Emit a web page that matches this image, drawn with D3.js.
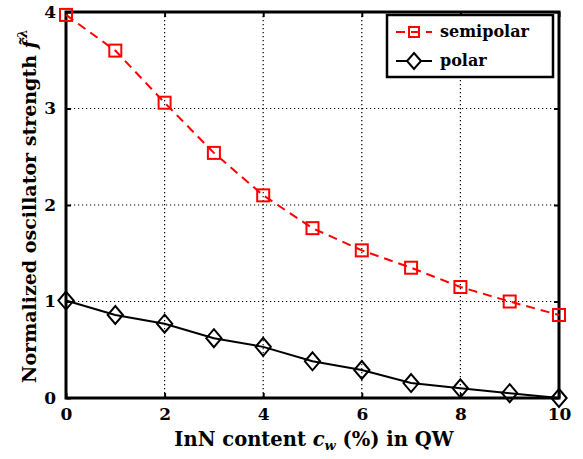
<!DOCTYPE html>
<html><head><meta charset="utf-8">
<script src="https://cdn.jsdelivr.net/npm/d3@7/dist/d3.min.js"></script>
<style>body{margin:0;background:#fff}svg{display:block}text{font-family:"DejaVu Serif",serif;font-weight:bold}</style>
</head><body><svg id="c" width="583" height="459"></svg>
<script>
const xValues = [0,1,2,3,4,5,6,7,8,9,10];
const semipolar = [3.97,3.60,3.06,2.54,2.10,1.76,1.53,1.35,1.15,1.00,0.86];
const polar = [1.01,0.86,0.77,0.62,0.53,0.38,0.29,0.155,0.10,0.05,0.0];
const xTicks = [0,2,4,6,8,10];
const yTicks = [0,1,2,3,4];

const svg = d3.select("#c");
const L=66,R=559,T=12,B=398;
const x = d3.scaleLinear().domain([0,10]).range([L,R]);
const y = d3.scaleLinear().domain([0,4]).range([B,T]);
const FONT = "DejaVu Serif";

// grid
const g = svg.append("g");
xTicks.slice(1,-1).forEach(t=>g.append("line").attr("x1",x(t)).attr("x2",x(t)).attr("y1",T).attr("y2",B)
  .attr("stroke","#000").attr("stroke-width",1.2).attr("stroke-dasharray","1.2,2.8"));
yTicks.slice(1,-1).forEach(t=>g.append("line").attr("y1",y(t)).attr("y2",y(t)).attr("x1",L).attr("x2",R)
  .attr("stroke","#000").attr("stroke-width",1.2).attr("stroke-dasharray","1.2,2.8"));

// axes
const fmt = d3.format("d");
const xa = svg.append("g").attr("transform",`translate(0,${B})`).call(d3.axisBottom(x).tickValues(xTicks).tickFormat(fmt).tickSizeInner(-5).tickSizeOuter(0).tickPadding(10));
const xaT = svg.append("g").attr("transform",`translate(0,${T})`).call(d3.axisTop(x).tickValues(xTicks).tickSizeInner(-5).tickSizeOuter(0).tickFormat(""));
const ya = svg.append("g").attr("transform",`translate(${L},0)`).call(d3.axisLeft(y).tickValues(yTicks).tickFormat(fmt).tickSizeInner(-5).tickSizeOuter(0).tickPadding(10));
const yaR = svg.append("g").attr("transform",`translate(${R},0)`).call(d3.axisRight(y).tickValues(yTicks).tickSizeInner(-5).tickSizeOuter(0).tickFormat(""));
[xa,xaT,ya,yaR].forEach(a=>{a.select(".domain").remove();a.selectAll("line").attr("stroke-width",2);
  a.selectAll("text").attr("font-size",17).attr("font-family",FONT).attr("font-weight","bold").attr("fill","#000");});
svg.append("rect").attr("x",L).attr("y",T).attr("width",R-L).attr("height",B-T).attr("fill","none").attr("stroke","#000").attr("stroke-width",3);

// lines
const line = d3.line().x((d,i)=>x(xValues[i])).y(d=>y(d));
svg.append("path").datum(semipolar).attr("d",line).attr("fill","none").attr("stroke","#f00").attr("stroke-width",2).attr("stroke-dasharray","9,6");
svg.append("path").datum(polar).attr("d",line).attr("fill","none").attr("stroke","#000").attr("stroke-width",2);
const s=6;
svg.selectAll(".sq").data(semipolar).enter().append("rect").attr("x",(d,i)=>x(xValues[i])-s).attr("y",d=>y(d)-s)
  .attr("width",2*s).attr("height",2*s).attr("fill","none").attr("stroke","#f00").attr("stroke-width",2);
const dm=9;
svg.selectAll(".dm").data(polar).enter().append("path")
  .attr("d",(d,i)=>{const cx=x(xValues[i]),cy=y(d);return `M${cx},${cy-dm}L${cx+dm*0.85},${cy}L${cx},${cy+dm}L${cx-dm*0.85},${cy}Z`;})
  .attr("fill","none").attr("stroke","#000").attr("stroke-width",2);

// legend
const lg = svg.append("g");
lg.append("rect").attr("x",387).attr("y",15).attr("width",166).attr("height",62).attr("fill","#fff").attr("stroke","#000").attr("stroke-width",2.5);
lg.append("line").attr("x1",396).attr("x2",432).attr("y1",32).attr("y2",32).attr("stroke","#f00").attr("stroke-width",2).attr("stroke-dasharray","9,6");
lg.append("rect").attr("x",414-5).attr("y",32-5).attr("width",10).attr("height",10).attr("fill","none").attr("stroke","#f00").attr("stroke-width",2);
lg.append("text").attr("x",440).attr("y",37).attr("font-size",16).text("semipolar");
lg.append("line").attr("x1",396).attr("x2",432).attr("y1",61).attr("y2",61).attr("stroke","#000").attr("stroke-width",2);
lg.append("path").attr("d",`M414,${61-8}L421,61L414,${61+8}L407,61Z`).attr("fill","#fff").attr("stroke","#000").attr("stroke-width",2);
lg.append("text").attr("x",440).attr("y",66).attr("font-size",16).text("polar");

// axis labels
const xl = svg.append("text").attr("x",314).attr("y",446).attr("text-anchor","middle").attr("font-size",19.5);
xl.append("tspan").text("InN content ");
xl.append("tspan").attr("font-style","italic").text("c");
xl.append("tspan").attr("font-style","italic").attr("font-size",13).attr("dy",4).text("w");
xl.append("tspan").attr("dy",-4).text(" (%) in QW");

const yl = svg.append("text").attr("transform","translate(36,206) rotate(-90)").attr("text-anchor","middle").attr("font-size",19);
yl.append("tspan").text("Normalized oscillator strength ");
yl.append("tspan").attr("font-style","italic").text("f\u0303");
yl.append("tspan").attr("font-size",13).attr("dy",-9).attr("dx",2).attr("font-style","italic").text("\u03bb");
</script></body></html>
